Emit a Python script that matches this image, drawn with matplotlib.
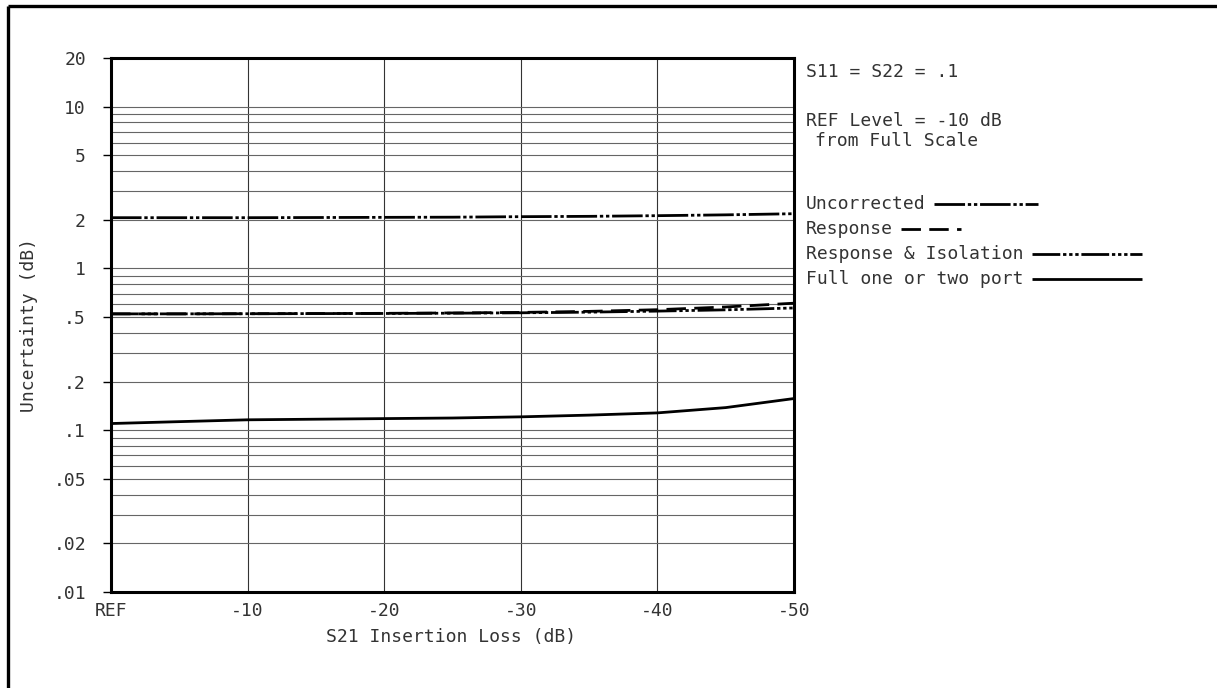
import numpy as np
import matplotlib
matplotlib.use("Agg")
import matplotlib.pyplot as plt
from matplotlib.lines import Line2D
from matplotlib.ticker import FixedLocator, LogLocator, NullFormatter

plt.rcParams['font.family'] = ['DejaVu Sans Mono', 'DejaVu Sans']

# S21 insertion loss (dB) and the uncertainty curves (dB)
loss_db = [0, -5, -10, -15, -20, -25, -30, -35, -40, -45, -50]
uncorrected = [2.06, 2.06, 2.06, 2.065, 2.07, 2.075, 2.09, 2.10, 2.12, 2.145, 2.18]
response = [0.524, 0.524, 0.525, 0.526, 0.528, 0.531, 0.535, 0.543, 0.556, 0.578, 0.61]
resp_isolation = [0.524, 0.524, 0.525, 0.526, 0.527, 0.529, 0.532, 0.537, 0.545, 0.555, 0.57]
full_port = [0.110, 0.113, 0.116, 0.117, 0.118, 0.119, 0.121, 0.124, 0.128, 0.138, 0.157]

y_ticks = [0.01, 0.02, 0.05, 0.1, 0.2, 0.5, 1, 2, 5, 10, 20]
y_labels = ['.01', '.02', '.05', '.1', '.2', '.5', '1', '2', '5', '10', '20']
x_ticks = [0, -10, -20, -30, -40, -50]
x_labels = ['REF', '-10', '-20', '-30', '-40', '-50']

series_names = ['Uncorrected', 'Response', 'Response & Isolation', 'Full one or two port']

W, H = 1217, 688
FS = 13
TXT = '#333333'
fig = plt.figure(figsize=(W / 100, H / 100), dpi=100)
ax = fig.add_axes([111 / W, 1 - 592 / H, (794 - 111) / W, (592 - 58) / H])

styles = {
    'Uncorrected': (0, (11, 1, 1.2, 1, 1.2, 1)),
    'Response': (0, (7, 3)),
    'Response & Isolation': (0, (10, 1, 1.2, 1, 1.2, 1, 1.2, 1)),
    'Full one or two port': '-',
}
curves = {
    'Uncorrected': uncorrected,
    'Response': response,
    'Response & Isolation': resp_isolation,
    'Full one or two port': full_port,
}

for name in series_names[::-1]:
    ax.plot(loss_db, curves[name], color='black', lw=2.0, ls=styles[name],
            solid_capstyle='butt', dash_capstyle='butt', zorder=3)

ax.set_yscale('log')
ax.set_ylim(0.01, 20)
ax.set_xlim(0, -50)

ax.yaxis.set_major_locator(FixedLocator(y_ticks))
ax.set_yticklabels(y_labels)
ax.yaxis.set_minor_locator(LogLocator(base=10, subs=np.arange(2, 10)))
ax.yaxis.set_minor_formatter(NullFormatter())
ax.set_xticks(x_ticks)
ax.set_xticklabels(x_labels)

ax.grid(True, which='both', axis='y', color='#666666', lw=0.8)
ax.grid(True, which='major', axis='x', color='#333333', lw=0.8)
ax.set_axisbelow(True)

ax.tick_params(axis='y', which='major', length=6, width=1, direction='out',
               pad=12, labelsize=FS, labelcolor=TXT)
ax.tick_params(axis='y', which='minor', length=0)
ax.tick_params(axis='x', length=0, pad=7, labelsize=FS, labelcolor=TXT)

for sp in ax.spines.values():
    sp.set_linewidth(2.2)
    sp.set_color('black')

fig.text(451 / W, 1 - 637 / H, 'S21 Insertion Loss (dB)', ha='center', va='center',
         fontsize=FS, color=TXT)
fig.text(29 / W, 1 - 325 / H, 'Uncertainty (dB)', ha='center', va='center',
         rotation=90, fontsize=FS, color=TXT)

# notes on the right
fig.text(806 / W, 1 - 72 / H, 'S11 = S22 = .1', ha='left', va='center', fontsize=FS, color=TXT)
fig.text(806 / W, 1 - 121 / H, 'REF Level = -10 dB', ha='left', va='center', fontsize=FS, color=TXT)
fig.text(815 / W, 1 - 141 / H, 'from Full Scale', ha='left', va='center', fontsize=FS, color=TXT)

# legend: text then a short sample of the line style
legend_y = [204, 229, 254, 279]
sample_len = [104, 60, 110, 110]
legend_texts = []
for name, yy in zip(series_names, legend_y):
    t = fig.text(806 / W, 1 - yy / H, name, ha='left', va='center', fontsize=FS, color=TXT)
    legend_texts.append(t)

fig.canvas.draw()
renderer = fig.canvas.get_renderer()
for name, t, yy, ln in zip(series_names, legend_texts, legend_y, sample_len):
    bb = t.get_window_extent(renderer)
    x0 = bb.x1 + 8
    fig.add_artist(Line2D([x0 / W, (x0 + ln) / W], [1 - yy / H, 1 - yy / H],
                          transform=fig.transFigure, color='black', lw=2.0,
                          ls=styles[name], solid_capstyle='butt', dash_capstyle='butt'))

# page frame (top and left edges only)
fig.add_artist(Line2D([7.5 / W, 1], [1 - 6 / H, 1 - 6 / H], transform=fig.transFigure,
                      color='black', lw=2.4, solid_capstyle='butt'))
fig.add_artist(Line2D([7.5 / W, 7.5 / W], [0, 1 - 6 / H], transform=fig.transFigure,
                      color='black', lw=2.4, solid_capstyle='butt'))

fig.savefig('out.png', dpi=100)
